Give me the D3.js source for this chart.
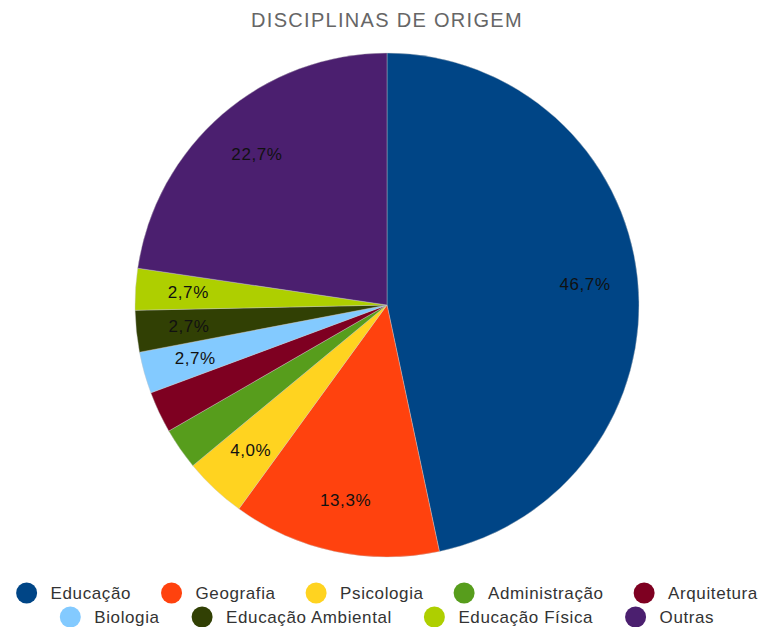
<!DOCTYPE html>
<html>
<head>
<meta charset="utf-8">
<script src="https://cdn.jsdelivr.net/npm/d3@7"></script>
<style>
  body { margin: 0; background: #fff; }
  text { font-family: "Liberation Sans", Arial, sans-serif; }
</style>
</head>
<body>
<div id="chart"></div>
<script>
// data (75 answers in total)
var categorias = ["Educação", "Geografia", "Psicologia", "Administração", "Arquitetura",
                  "Biologia", "Educação Ambiental", "Educação Física", "Outras"];
var contagens = [35, 10, 3, 2, 2, 2, 2, 2, 17];
var cores = ["#004586", "#ff420e", "#ffd320", "#579d1c", "#7e0021",
             "#83caff", "#314004", "#aecf00", "#4b1f6f"];
// labels that the original hides
var semRotulo = ["Administração", "Arquitetura"];
var titulo = "DISCIPLINAS DE ORIGEM";

var width = 760, height = 627;
var cx = 387, cy = 305, radius = 252;

var svg = d3.select("#chart").append("svg")
    .attr("width", width)
    .attr("height", height);

svg.append("text")
    .attr("x", 387)
    .attr("y", 27)
    .attr("text-anchor", "middle")
    .attr("fill", "#666666")
    .style("font-size", "20px")
    .style("letter-spacing", "1.3px")
    .text(titulo);

var total = d3.sum(contagens);
var dados = categorias.map(function(c, i) { return { nome: c, valor: contagens[i], cor: cores[i] }; });

var pie = d3.pie()
    .value(function(d) { return d.valor; })
    .sort(null);

var arc = d3.arc().innerRadius(0).outerRadius(radius);
var arcRotulo = d3.arc().innerRadius(radius * 0.79).outerRadius(radius * 0.79);

var g = svg.append("g")
    .attr("transform", "translate(" + cx + "," + cy + ")");

var fatias = pie(dados);

g.selectAll("path")
    .data(fatias)
    .enter()
    .append("path")
    .attr("d", arc)
    .attr("fill", function(d) { return d.data.cor; })
    .attr("stroke", "#c8c8c8")
    .attr("stroke-width", 0.4);

var fmt = function(v) { return (v / total * 100).toFixed(1).replace(".", ",") + "%"; };

g.selectAll("text.rotulo")
    .data(fatias.filter(function(d) { return semRotulo.indexOf(d.data.nome) < 0; }))
    .enter()
    .append("text")
    .attr("class", "rotulo")
    .attr("transform", function(d) { return "translate(" + arcRotulo.centroid(d) + ")"; })
    .attr("text-anchor", "middle")
    .attr("dy", "0.35em")
    .attr("fill", "#111")
    .style("font-size", "17px")
    .style("letter-spacing", "0.6px")
    .text(function(d) { return fmt(d.data.valor); });

// legend, two centred rows
var linhas = [dados.slice(0, 5), dados.slice(5)];
var linhaY = [593, 617];
var raio = 10.5, passoTexto = 24, espaco = [30, 32];

linhas.forEach(function(linha, li) {
    var lg = svg.append("g");
    var x = 0;
    linha.forEach(function(d, i) {
        var item = lg.append("g").attr("transform", "translate(" + x + ",0)");
        item.append("circle")
            .attr("cx", raio)
            .attr("cy", 0)
            .attr("r", raio)
            .attr("fill", d.cor);
        var t = item.append("text")
            .attr("x", raio + passoTexto)
            .attr("y", 0)
            .attr("dy", "0.35em")
            .attr("fill", "#333")
            .style("font-size", "17px")
            .style("letter-spacing", "0.6px")
            .text(d.nome);
        x += raio + passoTexto + t.node().getComputedTextLength() + espaco[li];
    });
    var largura = x - espaco[li];
    lg.attr("transform", "translate(" + (cx - largura / 2) + "," + linhaY[li] + ")");
});
</script>
</body>
</html>
